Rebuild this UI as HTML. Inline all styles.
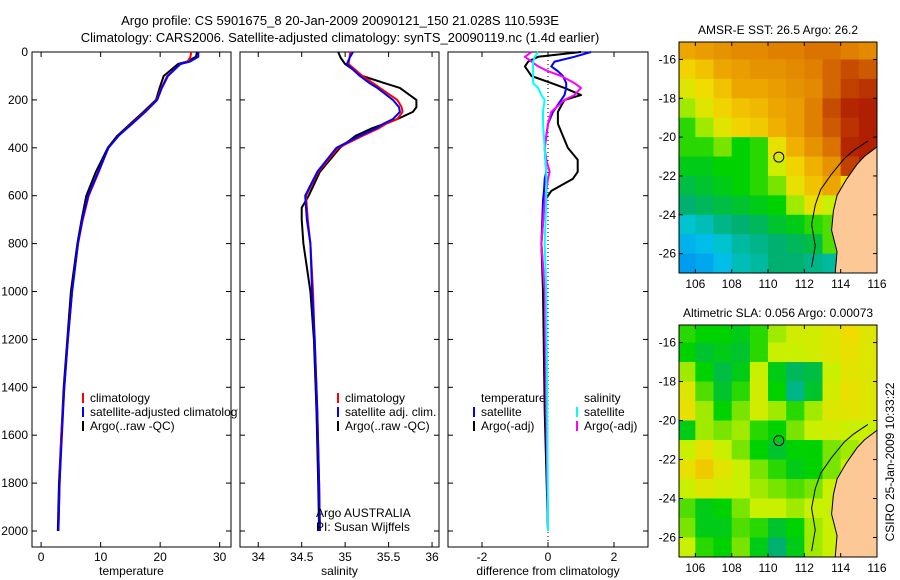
<!DOCTYPE html>
<html><head><meta charset="utf-8"><style>
body{margin:0;background:#fff;}
svg{display:block;font-family:"Liberation Sans",sans-serif;}
text{font-size:12px;fill:#000;}
</style></head><body>
<svg id="fig" width="900" height="580" viewBox="0 0 900 580">
<text x="340" y="25" text-anchor="middle" style="font-size:13px">Argo profile: CS 5901675_8 20-Jan-2009 20090121_150 21.028S 110.593E</text>
<text x="340" y="42" text-anchor="middle" style="font-size:13px">Climatology: CARS2006. Satellite-adjusted climatology: synTS_20090119.nc (1.4d earlier)</text>
</svg>
<script>
// ---------- data ----------
const depthT = [0,20,40,50,100,150,200,250,300,350,400,500,600,700,800,1000,1200,1400,1600,1800,2000];
const tempClim = [25.2,25.1,24.6,23.4,21.2,20.2,19.4,17.4,15.2,13,11.3,9.7,8.0,7.0,6.2,5.2,4.5,3.9,3.4,3.1,2.9];
const tempSat  = [26.4,26.4,25,23.4,21.3,20.3,19.5,17.5,15.3,13,11.3,9.6,7.9,6.9,6.2,5.2,4.5,3.9,3.5,3.1,2.9];
const tempArgo = [26.2,26,24.5,23,20.6,19.9,19.3,17.2,15.0,12.8,11.2,9.2,7.6,6.8,6.1,5.0,4.4,3.8,3.4,3.0,2.8];
const depthS = [0,25,50,100,130,150,200,230,250,280,300,320,350,400,500,600,650,700,800,1000,1200,1500,1800,2000];
const salClim = [35.06,35.05,35.04,35.2,35.32,35.4,35.6,35.65,35.66,35.6,35.47,35.38,35.2,34.92,34.69,34.55,34.56,34.57,34.6,34.63,34.65,34.68,34.7,34.71];
const salSat  = [35.09,35.05,35.02,35.17,35.28,35.37,35.55,35.62,35.63,35.55,35.44,35.35,35.17,34.9,34.68,34.54,34.55,34.56,34.6,34.62,34.65,34.68,34.7,34.71];
const salArgo = [34.92,34.95,35.0,35.2,35.45,35.63,35.82,35.82,35.78,35.6,35.45,35.3,35.12,34.94,34.71,34.58,34.5,34.5,34.52,34.6,34.64,34.67,34.69,34.7];
const depthD = [0,20,40,60,80,100,130,150,180,200,250,300,400,450,500,530,580,620,800,1000,1500,2000];
const dTempSat  = [1.3,0.8,0.2,0.1,0.3,0.45,0.55,0.55,0.5,0.4,0.15,0,-0.1,-0.08,-0.05,-0.1,-0.12,-0.15,-0.2,-0.1,-0.05,0];
const dTempArgo = [1.0,-0.3,-0.6,-0.7,-0.6,-0.5,0.1,0.5,1.0,0.5,0.3,0.3,0.6,0.9,0.9,0.75,0.1,-0.1,-0.2,-0.15,-0.1,0];
const dSalSat   = [-0.3,-0.4,-0.45,-0.45,-0.45,-0.45,-0.45,-0.3,-0.2,-0.1,-0.15,-0.15,-0.1,-0.08,-0.05,-0.05,-0.05,-0.05,-0.1,-0.05,-0.02,0];
const dSalArgo  = [-0.5,-0.7,-0.5,-0.3,0.0,0.4,0.8,1.0,0.8,0.5,0.1,0,-0.1,-0.05,0.05,0.0,-0.05,-0.1,-0.2,-0.1,-0.05,0];
const depthTicks = [0,200,400,600,800,1000,1200,1400,1600,1800,2000];
const tempTicks = [0,10,20,30];
const salTicks = [34,34.5,35,35.5,36];
const salTickLabels = ["34","34.5","35","35.5","36"];
const diffTicks = [-2,0,2];
const lonTicks = [106,108,110,112,114,116];
const latTicks = [-16,-18,-20,-22,-24,-26];
const sstGrid = [
[.72,.74,.76,.78,.78,.80,.80,.82,.82,.80,.78],
[.62,.66,.72,.74,.76,.76,.78,.80,.84,.88,.86],
[.55,.60,.66,.72,.72,.74,.76,.78,.84,.90,.92],
[.48,.55,.62,.66,.68,.72,.74,.80,.88,.94,.95],
[.42,.48,.56,.62,.64,.70,.74,.80,.86,.92,.95],
[.42,.42,.46,.40,.42,.58,.70,.76,.82,.94,.95],
[.38,.38,.40,.40,.42,.52,.62,.70,.76,.90,.95],
[.34,.36,.38,.40,.42,.46,.58,.66,.72,.60,.60],
[.30,.32,.34,.36,.38,.40,.48,.58,.50,.50,.50],
[.22,.24,.28,.30,.32,.36,.38,.42,.44,.50,.50],
[.16,.18,.22,.26,.28,.30,.32,.34,.44,.50,.50],
[.12,.14,.18,.24,.26,.30,.30,.28,.26,.50,.50]];
const slaGrid = [
[.42,.40,.40,.38,.42,.48,.52,.52,.55,.60,.55],
[.40,.36,.38,.36,.42,.50,.50,.52,.55,.58,.55],
[.48,.40,.34,.38,.50,.38,.32,.34,.50,.56,.55],
[.55,.44,.36,.42,.52,.40,.28,.36,.52,.58,.55],
[.58,.48,.40,.46,.52,.48,.42,.48,.55,.56,.55],
[.38,.48,.46,.48,.42,.40,.46,.50,.52,.50,.50],
[.50,.58,.50,.46,.40,.36,.40,.40,.46,.48,.50],
[.58,.64,.56,.50,.46,.42,.38,.40,.46,.50,.50],
[.50,.55,.52,.50,.48,.46,.44,.46,.50,.50,.50],
[.44,.38,.40,.46,.50,.50,.48,.50,.50,.50,.50],
[.46,.38,.38,.44,.42,.36,.40,.48,.50,.50,.50],
[.50,.42,.40,.46,.38,.30,.38,.48,.50,.50,.50]];
const coastLon = [116,115.3,114.9,114.3,113.8,113.6,113.5,113.8,113.7];
const coastLat = [-20.5,-21.0,-21.4,-22.2,-23.0,-23.8,-24.8,-25.9,-27];
const argoLon = 110.593, argoLat = -21.028;

const svg = document.getElementById('fig');
const NS = 'http://www.w3.org/2000/svg';
function mk(tag, attrs, parent){const e=document.createElementNS(NS,tag);for(const k in attrs)e.setAttribute(k,attrs[k]);(parent||svg).appendChild(e);return e;}

const yTop = 52, yBot = 547;
const yD = d => yTop + d*0.2395;
const panels = [
 {x0:32,x1:231,min:-1.53,max:31.9,name:'temperature-panel'},
 {x0:240,x1:439,min:33.79,max:36.08,name:'salinity-panel'},
 {x0:448,x1:648,min:-3.03,max:3.03,name:'difference-panel'}];
panels.forEach(p=>{p.sx = v => p.x0 + (v-p.min)/(p.max-p.min)*(p.x1-p.x0);});

function line(xs, ys, sx, color, name, w){
  const pts = xs.map((v,i)=>sx(v).toFixed(1)+','+yD(ys[i]).toFixed(1)).join(' ');
  const el = mk('polyline',{points:pts,fill:'none',stroke:color,'stroke-width':w||2,'stroke-linejoin':'round'});
  
  
}
function frame(p, ticks, labels, xlabel){
  const g = mk('g',{});
  
  
  const r = mk('rect',{x:p.x0,y:yTop,width:p.x1-p.x0,height:yBot-yTop,fill:'none',stroke:'#000','stroke-width':1},g);
  
  
  ticks.forEach((t,i)=>{
    const x = p.sx(t);
    mk('line',{x1:x,x2:x,y1:yBot,y2:yBot-5,stroke:'#000'},g);
    mk('line',{x1:x,x2:x,y1:yTop,y2:yTop+5,stroke:'#000'},g);
    const tx = mk('text',{x:x,y:yBot+14,'text-anchor':'middle'},g);
    tx.textContent = labels[i];
    
    
  });
  depthTicks.forEach(d=>{
    mk('line',{x1:p.x0,x2:p.x0+5,y1:yD(d),y2:yD(d),stroke:'#000'},g);
    mk('line',{x1:p.x1,x2:p.x1-5,y1:yD(d),y2:yD(d),stroke:'#000'},g);
  });
  const xl = mk('text',{x:(p.x0+p.x1)/2,y:yBot+28,'text-anchor':'middle'},g);
  xl.textContent = xlabel;
  
  
}
frame(panels[0], tempTicks, tempTicks.map(String), 'temperature');
frame(panels[1], salTicks, salTickLabels, 'salinity');
frame(panels[2], diffTicks, diffTicks.map(String), 'difference from climatology');
depthTicks.forEach(d=>{
  const t = mk('text',{x:28,y:yD(d)+4,'text-anchor':'end'});
  t.textContent = String(d);
  
  
});
const zx = panels[2].sx(0);
const zl = mk('line',{x1:zx,x2:zx,y1:yTop,y2:yBot,stroke:'#000','stroke-dasharray':'1,3'});



line(tempArgo, depthT, panels[0].sx, '#000', 'temp-argo-line');
line(tempClim, depthT, panels[0].sx, '#f00', 'temp-climatology-line');
line(tempSat, depthT, panels[0].sx, '#00f', 'temp-satellite-line');
line(salArgo, depthS, panels[1].sx, '#000', 'sal-argo-line');
line(salClim, depthS, panels[1].sx, '#f00', 'sal-climatology-line');
line(salSat, depthS, panels[1].sx, '#00f', 'sal-satellite-line');
line(dTempArgo, depthD, panels[2].sx, '#000', 'dtemp-argo-line');
line(dTempSat, depthD, panels[2].sx, '#00f', 'dtemp-satellite-line');
line(dSalArgo, depthD, panels[2].sx, '#f0f', 'dsal-argo-line');
line(dSalSat, depthD, panels[2].sx, '#0ff', 'dsal-satellite-line');

const clip1 = mk('clipPath',{id:'panel1-clip'});
mk('rect',{x:32,y:0,width:206,height:580},clip1);
function legendEntry(x, y, color, label, name, clip){
  if(color){
    const b = mk('line',{x1:x,x2:x,y1:y-9,y2:y+1,stroke:color,'stroke-width':2});
    
    
  }
  const t = mk('text',{x:x+7,y:y});
  if(clip) t.setAttribute('clip-path','url(#panel1-clip)');
  t.textContent = label;
  
  
}
legendEntry(83,402,'#f00','climatology','legend-climatology');
legendEntry(83,416,'#00f','satellite-adjusted climatology','legend-satellite',true);
legendEntry(83,430,'#000','Argo(..raw -QC)','legend-argo');
legendEntry(338,402,'#f00','climatology','legend2-climatology');
legendEntry(338,416,'#00f','satellite adj. clim.','legend2-satellite');
legendEntry(338,430,'#000','Argo(..raw -QC)','legend2-argo');
legendEntry(474,402,null,'temperature','legend3-temperature-head');
legendEntry(474,416,'#00f','satellite','legend3-temp-satellite');
legendEntry(474,430,'#000','Argo(-adj)','legend3-temp-argo');
legendEntry(577,402,null,'salinity','legend3-salinity-head');
legendEntry(577,416,'#0ff','satellite','legend3-sal-satellite');
legendEntry(577,430,'#f0f','Argo(-adj)','legend3-sal-argo');
const a1 = mk('text',{x:316,y:517}); a1.textContent='Argo AUSTRALIA';


const a2 = mk('text',{x:316,y:531}); a2.textContent='PI: Susan Wijffels';



const stops = [[0,[0,90,255]],[0.2,[0,200,230]],[0.3,[0,176,112]],[0.4,[0,210,0]],[0.5,[200,240,0]],[0.6,[240,220,0]],[0.7,[240,176,0]],[0.8,[224,128,0]],[0.9,[192,64,0]],[1,[160,0,0]]];
function cmap(v){
  for(let i=1;i<stops.length;i++){ if(v<=stops[i][0]){const a=stops[i-1],b=stops[i];const t=(v-a[0])/(b[0]-a[0]);return 'rgb('+a[1].map((c,k)=>Math.round(c+(b[1][k]-c)*t)).join(',')+')';}}
  return 'rgb(160,0,0)';
}
function drawMap(y0, y1, grid, title, name){
  const x0=679, x1=877, lonMin=105.1, lonMax=116, latMax=-15.1, latMin=-27;
  const sx = lon => x0+(lon-lonMin)/(lonMax-lonMin)*(x1-x0);
  const sy = lat => y0+(latMax-lat)/(latMax-latMin)*(y1-y0);
  const g = mk('g',{});
  
  
  const cp = mk('clipPath',{id:name+'-clip'},g);
  mk('rect',{x:x0,y:y0,width:x1-x0,height:y1-y0},cp);
  const inner = mk('g',{'clip-path':'url(#'+name+'-clip)'},g);
  grid.forEach((row,r)=>row.forEach((v,c)=>{
    const lonA=105+c, latA=-15-r;
    const cell = mk('rect',{x:sx(lonA),y:sy(latA),width:sx(lonA+1)-sx(lonA)+0.5,height:sy(latA-1)-sy(latA)+0.5,fill:cmap(v)},inner);
    
    
  }));
  let pts = coastLon.map((l,i)=>sx(l)+','+sy(coastLat[i])).join(' ');
  pts += ' '+sx(116.5)+','+sy(-27.5)+' '+sx(116.5)+','+sy(-20.5);
  const land = mk('polygon',{points:pts,fill:'#fbc896',stroke:'#000','stroke-width':1},inner);
  
  
  const shelf = mk('polyline',{points:coastLon.map((l,i)=>sx(l-0.5-0.1*i)+','+sy(coastLat[i]+0.3)).join(' '),fill:'none',stroke:'#000','stroke-width':1},inner);
  
  
  const fr = mk('rect',{x:x0,y:y0,width:x1-x0,height:y1-y0,fill:'none',stroke:'#000'},g);
  
  
  const pt = mk('circle',{cx:sx(argoLon),cy:sy(argoLat),r:5,fill:'none',stroke:'#000'},g);
  
  
  lonTicks.forEach(l=>{
    mk('line',{x1:sx(l),x2:sx(l),y1:y1,y2:y1-4,stroke:'#000'},g);
    mk('line',{x1:sx(l),x2:sx(l),y1:y0,y2:y0+4,stroke:'#000'},g);
    const t = mk('text',{x:sx(l),y:y1+15,'text-anchor':'middle'},g);
    t.textContent = String(l);
    
    
  });
  latTicks.forEach(l=>{
    mk('line',{x1:x0,x2:x0+4,y1:sy(l),y2:sy(l),stroke:'#000'},g);
    mk('line',{x1:x1,x2:x1-4,y1:sy(l),y2:sy(l),stroke:'#000'},g);
    const t = mk('text',{x:x0-3,y:sy(l)+4,'text-anchor':'end'},g);
    t.textContent = String(l);
    
    
  });
  const tt = mk('text',{x:(x0+x1)/2,y:y0-8,'text-anchor':'middle'},g);
  tt.textContent = title;
  
  
}
drawMap(42,273,sstGrid,'AMSR-E SST: 26.5 Argo: 26.2','sst-map');
drawMap(325,557,slaGrid,'Altimetric SLA: 0.056 Argo: 0.00073','sla-map');
const st = mk('text',{x:894,y:462,'text-anchor':'middle',transform:'rotate(-90 894 462)'});
st.textContent = 'CSIRO 25-Jan-2009 10:33:22';


</script>
</body></html>
